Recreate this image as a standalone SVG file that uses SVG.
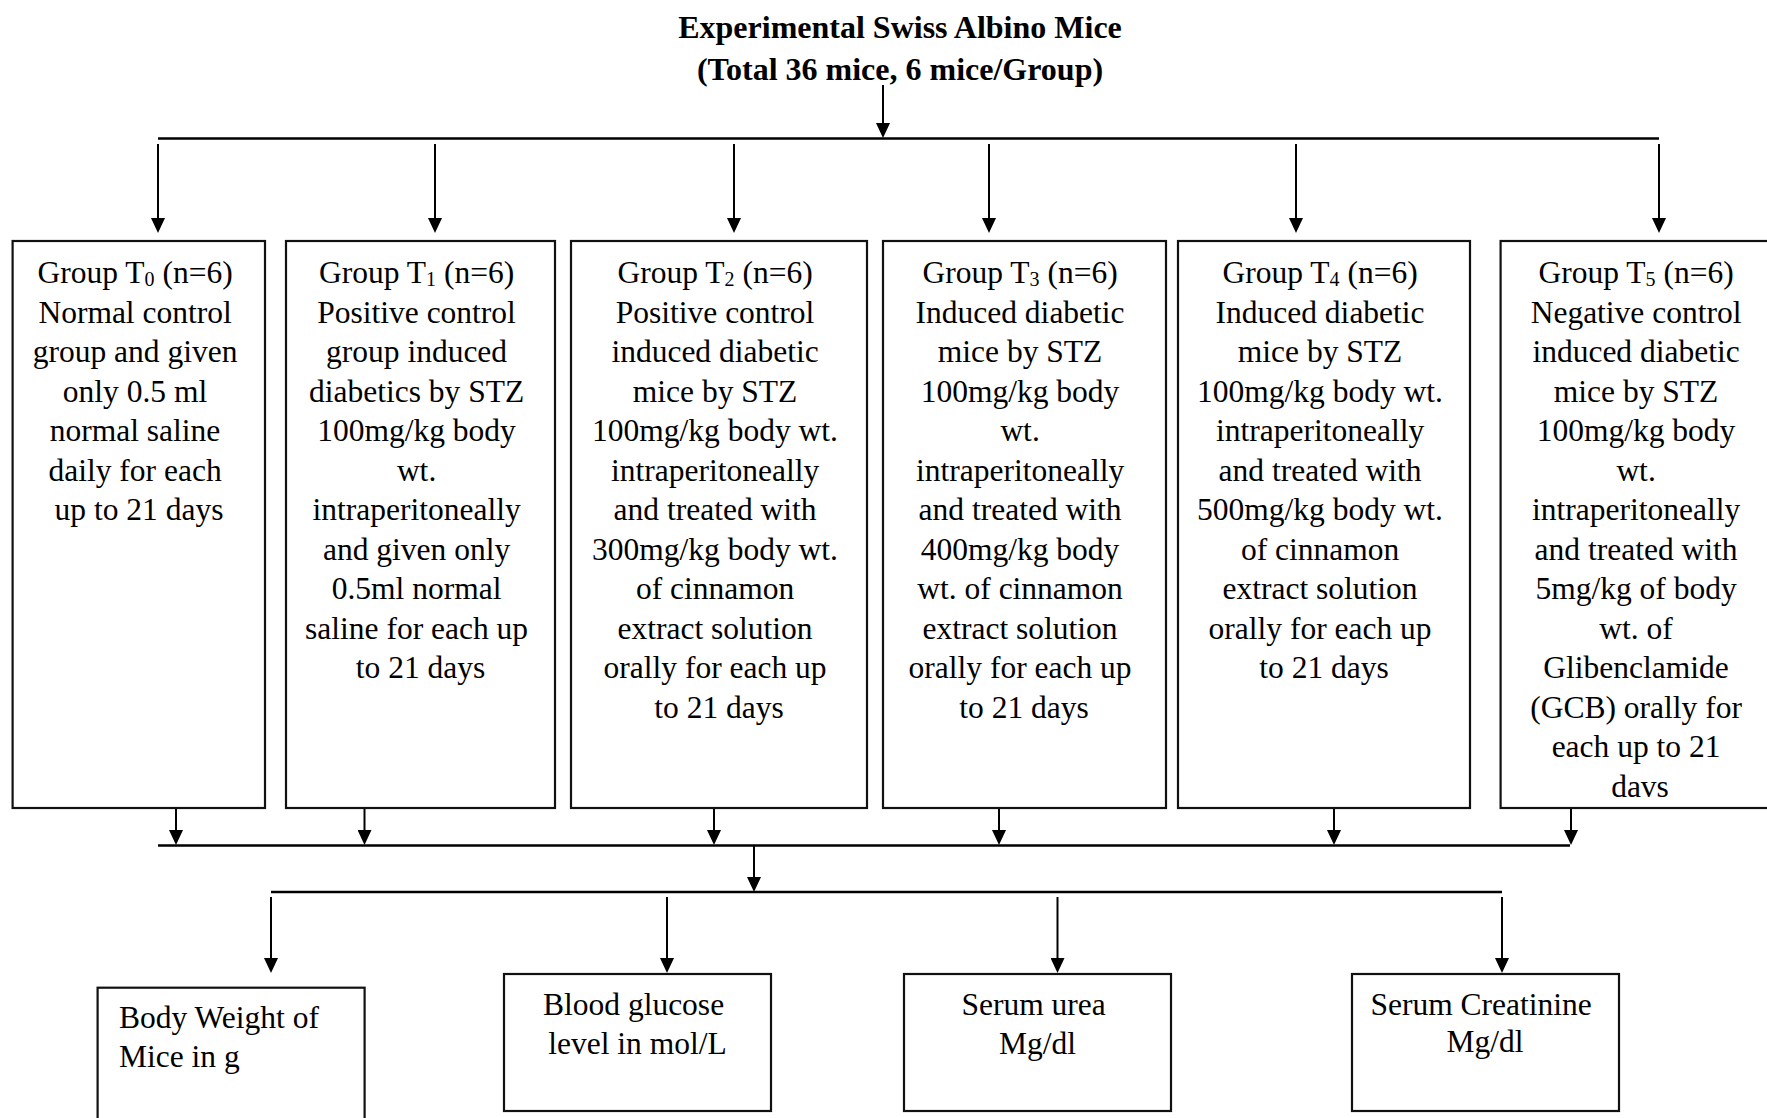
<svg xmlns="http://www.w3.org/2000/svg" width="1767" height="1118" viewBox="0 0 1767 1118">
<style>
.bg{fill:#fff}
.box{fill:#fff;stroke:#111;stroke-width:2.2}
.t{font-family:"Liberation Serif","Times New Roman",serif;font-size:31.5px;fill:#000;text-anchor:middle}
.tl{text-anchor:start}
.title{font-family:"Liberation Serif","Times New Roman",serif;font-size:32px;font-weight:bold;fill:#000;text-anchor:middle}
.sub{font-size:20px}
.ln{stroke:#000;stroke-width:2;fill:none}
.hl{stroke:#000;stroke-width:2.6;fill:none}
.ar{stroke:#000;stroke-width:2;fill:none;marker-end:url(#ah)}
</style>
<defs>
<marker id="ah" viewBox="0 0 15 14" refX="5" refY="7" markerWidth="15" markerHeight="14" markerUnits="userSpaceOnUse" orient="auto">
<path d="M0,0 L15,7 L0,14 z" fill="#000"/>
</marker>
</defs>
<rect class="bg" x="0" y="0" width="1767" height="1118"/>

<g id="title">
<text class="title" x="900" y="37.5">Experimental Swiss Albino Mice</text>
<text class="title" x="900" y="79.5">(Total 36 mice, 6 mice/Group)</text>
</g>

<g id="connectors">
<line class="ar" x1="883" y1="85" x2="883" y2="128"/>
<line class="hl" x1="158" y1="138.5" x2="1659" y2="138.5"/>
<line class="ar" x1="158" y1="144" x2="158" y2="223"/>
<line class="ar" x1="435" y1="144" x2="435" y2="223"/>
<line class="ar" x1="734" y1="144" x2="734" y2="223"/>
<line class="ar" x1="989" y1="144" x2="989" y2="223"/>
<line class="ar" x1="1296" y1="144" x2="1296" y2="223"/>
<line class="ar" x1="1659" y1="144" x2="1659" y2="223"/>

<line class="ar" x1="176" y1="809" x2="176" y2="835"/>
<line class="ar" x1="364.5" y1="809" x2="364.5" y2="835"/>
<line class="ar" x1="714" y1="809" x2="714" y2="835"/>
<line class="ar" x1="999" y1="809" x2="999" y2="835"/>
<line class="ar" x1="1334" y1="809" x2="1334" y2="835"/>
<line class="ar" x1="1571" y1="809" x2="1571" y2="835"/>
<line class="hl" x1="158" y1="845.5" x2="1570" y2="845.5"/>
<line class="ar" x1="754" y1="846" x2="754" y2="882"/>
<line class="hl" x1="271" y1="892" x2="1502" y2="892"/>
<line class="ar" x1="271" y1="897" x2="271" y2="963"/>
<line class="ar" x1="667" y1="897" x2="667" y2="963"/>
<line class="ar" x1="1057.5" y1="897" x2="1057.5" y2="963"/>
<line class="ar" x1="1502" y1="897" x2="1502" y2="963"/>
</g>

<g id="T0">
<rect class="box" x="12.6" y="241" width="252.4" height="567"/>
<text class="t">
<tspan x="139" y="283">Group T<tspan class="sub" dy="3">0</tspan><tspan dy="-3"> (n=6)</tspan></tspan>
<tspan x="139" y="322.5">Normal control</tspan>
<tspan x="139" y="362">group and given</tspan>
<tspan x="139" y="401.5">only 0.5 ml</tspan>
<tspan x="139" y="441">normal saline</tspan>
<tspan x="139" y="480.5">daily for each</tspan>
<tspan x="139" y="520">up to 21 days</tspan>
</text>
</g>

<g id="T1">
<rect class="box" x="286" y="241" width="269" height="567"/>
<text class="t">
<tspan x="420.5" y="283">Group T<tspan class="sub" dy="3">1</tspan><tspan dy="-3"> (n=6)</tspan></tspan>
<tspan x="420.5" y="322.5">Positive control</tspan>
<tspan x="420.5" y="362">group induced</tspan>
<tspan x="420.5" y="401.5">diabetics by STZ</tspan>
<tspan x="420.5" y="441">100mg/kg body</tspan>
<tspan x="420.5" y="480.5">wt.</tspan>
<tspan x="420.5" y="520">intraperitoneally</tspan>
<tspan x="420.5" y="559.5">and given only</tspan>
<tspan x="420.5" y="599">0.5ml normal</tspan>
<tspan x="420.5" y="638.5">saline for each up</tspan>
<tspan x="420.5" y="678">to 21 days</tspan>
</text>
</g>

<g id="T2">
<rect class="box" x="571" y="241" width="296" height="567"/>
<text class="t">
<tspan x="719" y="283">Group T<tspan class="sub" dy="3">2</tspan><tspan dy="-3"> (n=6)</tspan></tspan>
<tspan x="719" y="322.5">Positive control</tspan>
<tspan x="719" y="362">induced diabetic</tspan>
<tspan x="719" y="401.5">mice by STZ</tspan>
<tspan x="719" y="441">100mg/kg body wt.</tspan>
<tspan x="719" y="480.5">intraperitoneally</tspan>
<tspan x="719" y="520">and treated with</tspan>
<tspan x="719" y="559.5">300mg/kg body wt.</tspan>
<tspan x="719" y="599">of cinnamon</tspan>
<tspan x="719" y="638.5">extract solution</tspan>
<tspan x="719" y="678">orally for each up</tspan>
<tspan x="719" y="717.5">to 21 days</tspan>
</text>
</g>

<g id="T3">
<rect class="box" x="883" y="241" width="283" height="567"/>
<text class="t">
<tspan x="1024" y="283">Group T<tspan class="sub" dy="3">3</tspan><tspan dy="-3"> (n=6)</tspan></tspan>
<tspan x="1024" y="322.5">Induced diabetic</tspan>
<tspan x="1024" y="362">mice by STZ</tspan>
<tspan x="1024" y="401.5">100mg/kg body</tspan>
<tspan x="1024" y="441">wt.</tspan>
<tspan x="1024" y="480.5">intraperitoneally</tspan>
<tspan x="1024" y="520">and treated with</tspan>
<tspan x="1024" y="559.5">400mg/kg body</tspan>
<tspan x="1024" y="599">wt. of cinnamon</tspan>
<tspan x="1024" y="638.5">extract solution</tspan>
<tspan x="1024" y="678">orally for each up</tspan>
<tspan x="1024" y="717.5">to 21 days</tspan>
</text>
</g>

<g id="T4">
<rect class="box" x="1178" y="241" width="292" height="567"/>
<text class="t">
<tspan x="1324" y="283">Group T<tspan class="sub" dy="3">4</tspan><tspan dy="-3"> (n=6)</tspan></tspan>
<tspan x="1324" y="322.5">Induced diabetic</tspan>
<tspan x="1324" y="362">mice by STZ</tspan>
<tspan x="1324" y="401.5">100mg/kg body wt.</tspan>
<tspan x="1324" y="441">intraperitoneally</tspan>
<tspan x="1324" y="480.5">and treated with</tspan>
<tspan x="1324" y="520">500mg/kg body wt.</tspan>
<tspan x="1324" y="559.5">of cinnamon</tspan>
<tspan x="1324" y="599">extract solution</tspan>
<tspan x="1324" y="638.5">orally for each up</tspan>
<tspan x="1324" y="678">to 21 days</tspan>
</text>
</g>

<g id="T5">
<rect class="box" x="1500.6" y="241" width="280" height="567"/>
<text class="t">
<tspan x="1640" y="283">Group T<tspan class="sub" dy="3">5</tspan><tspan dy="-3"> (n=6)</tspan></tspan>
<tspan x="1640" y="322.5">Negative control</tspan>
<tspan x="1640" y="362">induced diabetic</tspan>
<tspan x="1640" y="401.5">mice by STZ</tspan>
<tspan x="1640" y="441">100mg/kg body</tspan>
<tspan x="1640" y="480.5">wt.</tspan>
<tspan x="1640" y="520">intraperitoneally</tspan>
<tspan x="1640" y="559.5">and treated with</tspan>
<tspan x="1640" y="599">5mg/kg of body</tspan>
<tspan x="1640" y="638.5">wt. of</tspan>
<tspan x="1640" y="678">Glibenclamide</tspan>
<tspan x="1640" y="717.5">(GCB) orally for</tspan>
<tspan x="1640" y="757">each up to 21</tspan>
<tspan x="1640" y="796.5">davs</tspan>
</text>
</g>

<g id="bodyweight">
<rect class="box" x="97.6" y="987.7" width="267" height="140"/>
<text class="t tl">
<tspan x="119" y="1028">Body Weight of</tspan>
<tspan x="119" y="1067">Mice in g</tspan>
</text>
</g>

<g id="glucose">
<rect class="box" x="504" y="974" width="267" height="137"/>
<text class="t">
<tspan x="637.5" y="1015">Blood glucose</tspan>
<tspan x="637.5" y="1054">level in mol/L</tspan>
</text>
</g>

<g id="urea">
<rect class="box" x="904" y="974" width="267" height="137"/>
<text class="t">
<tspan x="1037.5" y="1015">Serum urea</tspan>
<tspan x="1037.5" y="1054">Mg/dl</tspan>
</text>
</g>

<g id="creatinine">
<rect class="box" x="1352" y="974" width="267" height="137"/>
<text class="t">
<tspan x="1485" y="1015">Serum Creatinine</tspan>
<tspan x="1485" y="1052">Mg/dl</tspan>
</text>
</g>
</svg>
